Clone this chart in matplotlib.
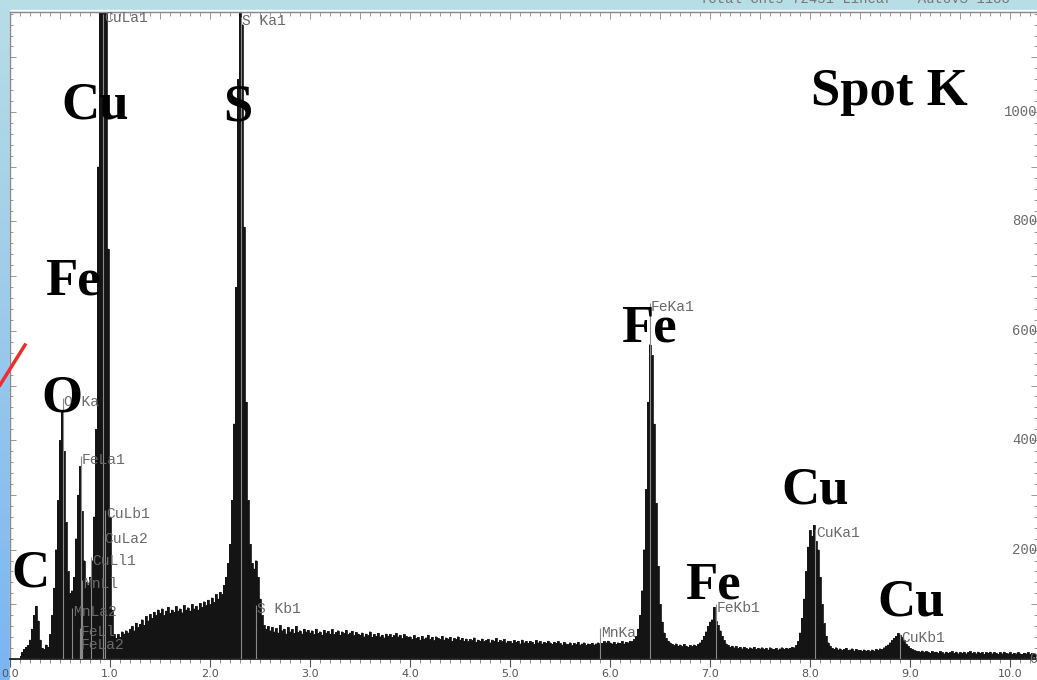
import numpy as np
import matplotlib.pyplot as plt
from matplotlib.ticker import MultipleLocator, FuncFormatter
from matplotlib.transforms import blended_transform_factory
from matplotlib.lines import Line2D
from matplotlib.patches import Rectangle

# EDS spectrum, channels of 0.02 keV starting at 0.10 keV (counts)
e_start = 0.10
e_step = 0.02
counts = [
    5, 12, 18, 22, 25, 35, 55, 80, 97, 70, 35, 20, 18, 26, 22, 45, 80, 130, 200, 290,           # 0.10-0.48
    400, 455, 380, 250, 160, 120, 125, 150, 220, 300, 352, 270, 180, 140, 135, 150, 180, 260,
    420, 900, 1300, 1500, 1500, 1350, 750,                                                       # 0.50-0.98
    260, 90, 45, 38, 45, 40, 50, 46, 52, 48, 55, 60, 52, 66, 58, 64, 72, 62, 78, 70, 82, 75, 86, 80, 90,
    84, 92, 80, 88, 95, 84, 90, 86, 96, 88, 92, 85, 98, 90, 94, 88, 100, 92, 97, 90, 102, 95, 105, 98, 108,
    100, 112, 104, 118, 110, 122, 118, 135, 150, 175, 210, 290, 430, 680, 1060, 1200, 1160, 790,
    470, 290, 210, 175, 165, 180, 150,                                                           # 2.00-2.48
    110, 80, 62, 55, 60, 52, 58, 50, 56, 48, 62, 52, 55, 46, 58, 50, 54, 47, 60, 49, 52, 46, 55, 50, 53,
    48, 52, 45, 55, 47, 50, 44, 53, 48, 51, 46, 54, 45, 49, 52, 44, 50, 47, 53, 45, 48, 51, 43, 49, 46,
    44, 48, 41, 46, 43, 50, 40, 45, 42, 47, 41, 44, 39, 46, 42, 45, 40, 43, 47, 41, 44, 38, 45, 42, 40,
    41, 36, 43, 38, 40, 35, 42, 37, 39, 44, 36, 40, 34, 41, 38, 36, 42, 35, 39, 37, 40, 33, 38, 36, 41,
    35, 38, 33, 37, 32, 36, 34, 39, 31, 35, 33, 37, 32, 34, 36, 30, 35, 33, 38, 31, 34, 32, 36, 30, 33,
    32, 29, 34, 31, 33, 28, 35, 30, 32, 29, 33, 31, 27, 34, 30, 32, 28, 31, 29, 33, 30, 27, 31, 29, 32,
    29, 26, 31, 28, 27, 30, 25, 29, 27, 31, 26, 28, 30, 25, 28, 27, 29, 26, 28, 30, 27, 29, 32, 30, 33,
    30, 28, 31, 27, 30, 29, 32, 28, 31, 30, 33, 32, 36, 42, 55, 80, 125, 200, 310, 470, 575, 555,
    430, 285, 170,                                                                               # 6.00-6.48
    100, 68, 48, 38, 33, 30, 27, 25, 28, 24, 26, 23, 27, 24, 22, 25, 23, 26, 24, 27, 30, 35, 42, 50, 60,
    68, 72, 95, 70, 62, 52, 42, 34, 28, 25, 22, 24, 21, 23, 20, 22, 19, 22, 20, 18, 21, 19, 22, 18, 20,
    19, 21, 18, 20, 17, 21, 19, 18, 20, 17, 19, 21, 18, 20, 19, 20, 22, 21, 25, 32, 48, 75, 110, 160, 205,
    235, 225, 245, 215, 200, 150, 100, 65, 42, 30, 24, 20, 18, 21, 17, 19, 16, 18, 20, 16, 17, 19, 15, 18, 16,
    16, 14, 17, 15, 16, 14, 17, 15, 18, 16, 19, 18, 21, 24, 26, 30, 34, 38, 42, 47, 44, 40, 34, 28, 24,
    20, 18, 16, 15, 14, 13, 15, 12, 14, 13, 11, 14, 12, 13, 11, 14, 12, 10, 13, 11, 12, 14, 11, 13, 10,
    12, 11, 13, 10, 12, 14, 11, 12, 10, 13, 11, 12, 9, 12, 11, 13, 10, 12, 11, 9, 12, 10, 13, 11, 10,
    12, 9, 11, 10, 12, 10, 9, 11, 10, 12, 9, 11, 10, 8,                                          # 10.00-10.26
]
energy = e_start + e_step * np.arange(len(counts))

# KLM marker labels: name, energy (keV), height of label (counts)
marker_names = ["CuLa1", "S Ka1", "O Ka", "FeLa1", "CuLb1", "CuLa2", "CuLl1", "MnLl",
                "MnLa2", "FeLl", "FeLa2", "S Kb1", "MnKa", "FeKa1", "FeKb1", "CuKa1", "CuKb1"]
marker_kev = [0.93, 2.31, 0.525, 0.705, 0.95, 0.93, 0.81, 0.72,
              0.62, 0.70, 0.70, 2.46, 5.90, 6.40, 7.06, 8.05, 8.90]
marker_cts = [1172, 1166, 470, 364, 265, 219, 179, 137,
              86, 49, 26, 91, 48, 643, 93, 230, 38]

# big element annotations: text, energy, baseline counts
elem_text = ["Cu", "S", "Spot K", "Fe", "O", "C", "Fe", "Cu", "Fe", "Cu"]
elem_kev = [0.85, 2.28, 8.79, 0.63, 0.52, 0.20, 6.39, 8.05, 7.03, 9.01]
elem_cts = [989, 985, 1013, 667, 453, 133, 580, 285, 110, 80]

right_labels = [0, 200, 400, 600, 800, 1000]

W, H = 1037, 680
fig = plt.figure(figsize=(W / 100, H / 100), dpi=100)

# blue slide background + white paper of the scan
bg = fig.add_axes([0, 0, 1, 1])
grad = np.linspace(0, 1, 256)[:, None]
top_c = np.array([0.72, 0.87, 0.90])
bot_c = np.array([0.48, 0.71, 0.95])
img = top_c[None, None, :] * (1 - grad[:, :, None]) + bot_c[None, None, :] * grad[:, :, None]
bg.imshow(img, aspect="auto", extent=[0, 1, 0, 1])
bg.add_patch(Rectangle((10 / W, 0), 1, 1 - 10 / H, color="white", zorder=2))
bg.set_xlim(0, 1)
bg.set_ylim(0, 1)
bg.axis("off")

ax = fig.add_axes([10 / W, 21 / H, 1 - 10 / W, (659 - 12) / H])
ax.set_facecolor("white")
ax.fill_between(energy, counts, step="mid", color="#141414", lw=0)
ax.step(energy, counts, where="mid", color="#141414", lw=0.6)
ax.set_xlim(0, 10.27)
ax.set_ylim(0, 1183)

for name, e, c in zip(marker_names, marker_kev, marker_cts):
    ax.vlines(e, 0, c + 8, color="#8a8a8a", lw=0.8, zorder=3)
    ax.text(e + 0.01, c, name, family="Liberation Mono", fontsize=10.5,
            color="#6a6a6a", ha="left", va="center", zorder=4)

for t, e, c in zip(elem_text, elem_kev, elem_cts):
    ax.text(e, c, t, family="Liberation Serif", fontweight="bold", fontsize=38,
            color="black", ha="center", va="baseline", zorder=5)

trans = blended_transform_factory(ax.transAxes, ax.transData)
for v in right_labels:
    ax.text(1.0, v, str(v), transform=trans, family="Liberation Mono", fontsize=10,
            color="#6a6a6a", ha="right", va="center", clip_on=False)

ax.xaxis.set_major_locator(MultipleLocator(1))
ax.xaxis.set_minor_locator(MultipleLocator(0.1))
ax.xaxis.set_major_formatter(FuncFormatter(lambda v, p: f"{v:.1f}"))
ax.tick_params(axis="x", which="major", direction="out", length=6, width=0.8,
               color="#555555", labelsize=8, labelcolor="#555555", pad=1)
ax.tick_params(axis="x", which="minor", direction="out", length=3, width=0.6, color="#777777")

ax.yaxis.set_major_locator(MultipleLocator(100))
ax.yaxis.set_minor_locator(MultipleLocator(20))
ax.tick_params(axis="y", which="both", direction="in", left=True, right=True,
               labelleft=False, color="#888888", width=0.6)
ax.tick_params(axis="y", which="major", length=4)
ax.tick_params(axis="y", which="minor", length=2.5)

top = ax.secondary_xaxis("top")
top.xaxis.set_major_locator(MultipleLocator(0.5))
top.xaxis.set_minor_locator(MultipleLocator(0.1))
top.tick_params(which="both", direction="in", labeltop=False, color="#888888", width=0.6)
top.tick_params(which="major", length=5)
top.tick_params(which="minor", length=3)
top.spines["top"].set_color("#8a8a8a")

for s in ["left", "top"]:
    ax.spines[s].set_color("#8a8a8a")
    ax.spines[s].set_linewidth(1.0)
ax.spines["bottom"].set_color("#222222")
ax.spines["bottom"].set_linewidth(1.3)
ax.spines["right"].set_visible(False)

# header line of the scan, half cut by the top edge as in the reference
fig.text(700 / W, 1 + 1 / H, "Total Cnts=72451 Linear   AutoVS=1183",
         family="Liberation Mono", fontsize=10, color="#777777", ha="left", va="center")

fig.add_artist(Line2D([0, 25 / W], [1 - 385 / H, 1 - 345 / H], color="#f02c2c", lw=2.5))

fig.savefig("out.png", dpi=100)
